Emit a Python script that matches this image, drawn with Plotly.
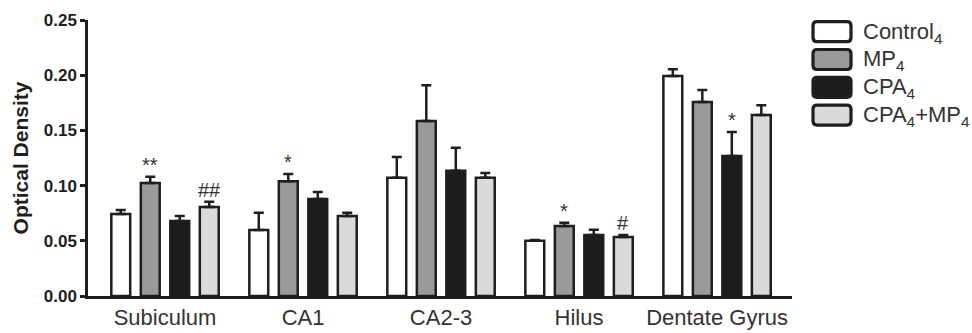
import plotly.graph_objects as go

# ---- data ----
regions = ["Subiculum", "CA1", "CA2-3", "Hilus", "Dentate Gyrus"]
series_names = ["Control<sub>4</sub>", "MP<sub>4</sub>", "CPA<sub>4</sub>", "CPA<sub>4</sub>+MP<sub>4</sub>"]
control = [0.0743, 0.0598, 0.1072, 0.0501, 0.1993]
mp = [0.1024, 0.1040, 0.1585, 0.0634, 0.1757]
cpa = [0.0680, 0.0879, 0.1135, 0.0553, 0.1268]
cpa_mp = [0.0806, 0.0725, 0.1072, 0.0535, 0.1640]
control_err = [0.0037, 0.0157, 0.0188, 0.0006, 0.0060]
mp_err = [0.0056, 0.0065, 0.0323, 0.0030, 0.0109]
cpa_err = [0.0045, 0.0063, 0.0208, 0.0048, 0.0218]
cpa_mp_err = [0.0048, 0.0030, 0.0042, 0.0017, 0.0087]
# significance marks: (region index, series index, text)
marks = [(0, 1, "**"), (0, 3, "##"), (1, 1, "*"), (3, 1, "*"), (3, 3, "#"), (4, 2, "*")]
y_ticks = [0.00, 0.05, 0.10, 0.15, 0.20, 0.25]

values = [control, mp, cpa, cpa_mp]
errors = [control_err, mp_err, cpa_err, cpa_mp_err]
colors = ["#ffffff", "#9a9a9a", "#1c1c1c", "#dadada"]

FONT = "Arial, Liberation Sans, sans-serif"
INK = "#1e1e1e"
BARGAP = 0.145
GROUPGAP = 0.36

W, H = 972, 333
L, R, T, B = 88, 180, 20, 37
PW, PH = W - L - R, H - T - B

fig = go.Figure()
for name, vals, errs, col in zip(series_names, values, errors, colors):
    fig.add_trace(go.Bar(
        x=regions, y=vals, name=name,
        marker=dict(color=col, line=dict(color=INK, width=2.5)),
        error_y=dict(type="data", array=errs, arrayminus=[0] * len(errs),
                     symmetric=False, color=INK, thickness=2.5, width=5),
        showlegend=False,
    ))

slot = (1 - BARGAP) / len(values)
annotations = []
for gi, si, txt in marks:
    xpos = gi + (si - (len(values) - 1) / 2) * slot
    annotations.append(dict(
        x=xpos, y=values[si][gi] + errors[si][gi], xref="x", yref="y",
        text=txt, showarrow=False, yanchor="bottom", yshift=-1,
        font=dict(family=FONT, size=20, color="#333333"),
    ))

# custom legend (large rounded swatches like the original)
sw_x0, sw_x1 = 813, 851
row_y0, row_step, sw_h = 31.7, 27.8, 20
rad = 4
shapes = []


def px_to_paper(px, py):
    return (px - L) / PW, (H - B - py) / PH


for i, (name, col) in enumerate(zip(series_names, colors)):
    cy = row_y0 + i * row_step
    y0p, y1p = cy - sw_h / 2, cy + sw_h / 2
    pts = [
        ("M", sw_x0 + rad, y0p), ("L", sw_x1 - rad, y0p), ("Q", sw_x1, y0p, sw_x1, y0p + rad),
        ("L", sw_x1, y1p - rad), ("Q", sw_x1, y1p, sw_x1 - rad, y1p),
        ("L", sw_x0 + rad, y1p), ("Q", sw_x0, y1p, sw_x0, y1p - rad),
        ("L", sw_x0, y0p + rad), ("Q", sw_x0, y0p, sw_x0 + rad, y0p),
    ]
    path = ""
    for p in pts:
        cmd, coords = p[0], p[1:]
        conv = []
        for j in range(0, len(coords), 2):
            ax, ay = px_to_paper(coords[j], coords[j + 1])
            conv.append(f"{ax:.5f},{ay:.5f}")
        path += cmd + " ".join(conv) + " "
    path += "Z"
    shapes.append(dict(type="path", xref="paper", yref="paper", path=path,
                       fillcolor=col, line=dict(color=INK, width=3.2)))
    tx, ty = px_to_paper(861, cy)
    annotations.append(dict(
        x=tx, y=ty, xref="paper", yref="paper",
        text=name, showarrow=False, xanchor="left", yanchor="middle", yshift=-1,
        font=dict(family=FONT, size=22, color="#333333"),
    ))

fig.update_layout(
    width=W, height=H,
    margin=dict(l=L, r=R, t=T, b=B, autoexpand=False),
    paper_bgcolor="white", plot_bgcolor="white",
    barmode="group", bargap=BARGAP, bargroupgap=GROUPGAP,
    font=dict(family=FONT, color=INK),
    annotations=annotations, shapes=shapes,
    showlegend=False,
)
fig.update_xaxes(
    range=[-0.558, 4.543], showline=True, linecolor=INK, linewidth=2.5,
    ticks="", showgrid=False, zeroline=False,
    tickfont=dict(family=FONT, size=22, color="#333333"),
)
fig.update_yaxes(
    range=[0, 0.25], tickvals=y_ticks, tickformat=".2f",
    showline=True, linecolor=INK, linewidth=2.5,
    ticks="outside", ticklen=5, tickwidth=2.5, tickcolor=INK,
    showgrid=False, zeroline=False,
    tickfont=dict(family=FONT, size=17, color=INK, weight="bold"),
    title=dict(text="Optical Density", font=dict(family=FONT, size=21, color=INK, weight="bold"), standoff=10),
)

fig.write_html("out.html", config={"displayModeBar": False},
               post_script="document.body.style.margin='0';document.body.style.overflow='hidden';")
